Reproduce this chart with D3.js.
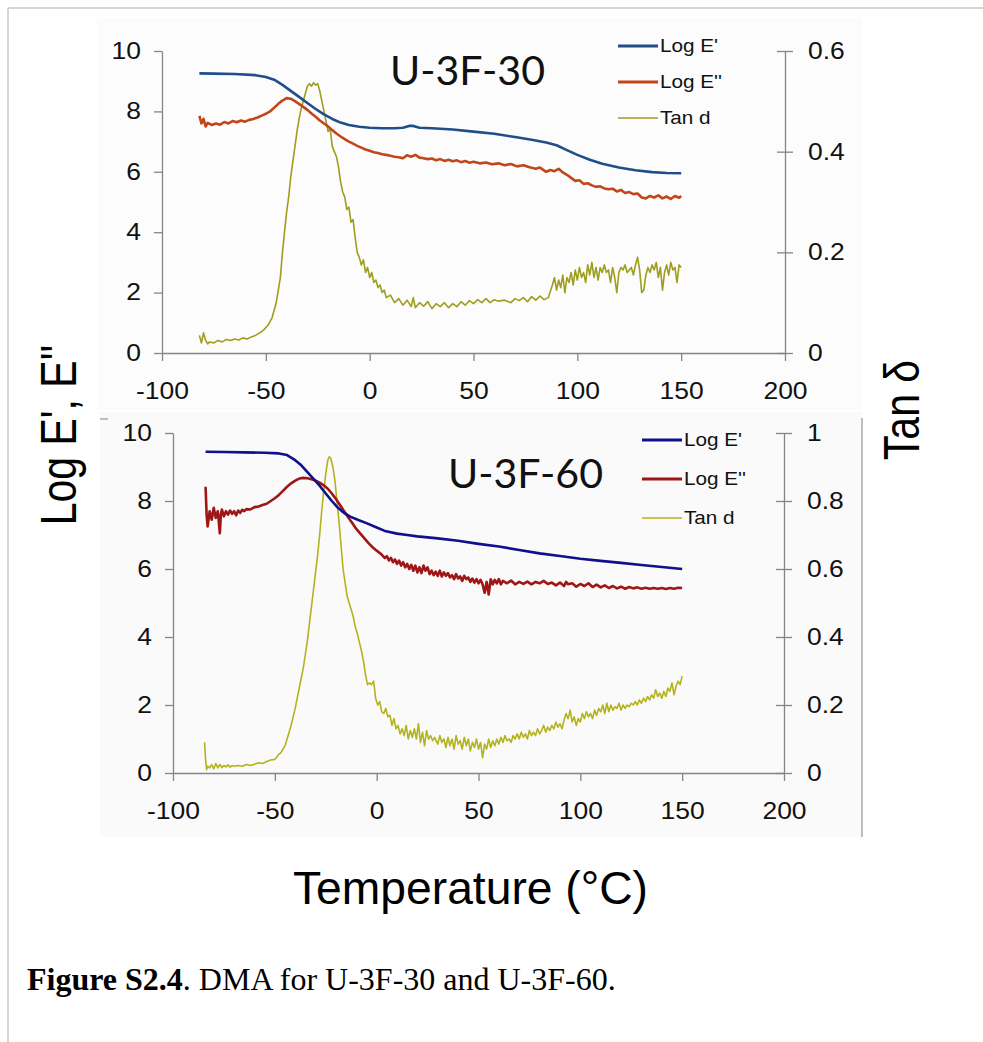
<!DOCTYPE html>
<html>
<head>
<meta charset="utf-8">
<script src="https://cdn.jsdelivr.net/npm/d3@7"></script>
<style>
  body { margin: 0; background: #fff; }
  text { font-family: "Liberation Sans", Arial, sans-serif; }
</style>
</head>
<body>
<svg id="fig" width="983" height="1042"></svg>
<script>
"use strict";
// ---- data: [temperature °C, value] ----
const tempTicks = [-100, -50, 0, 50, 100, 150, 200];
const modTicks = [0, 2, 4, 6, 8, 10];
const tanTicks30 = [0, 0.2, 0.4, 0.6];
const tanTicks60 = [0, 0.2, 0.4, 0.6, 0.8, 1];
const seriesNames = ["Log E'", "Log E''", "Tan d"];

// U-3F-30
const u30LogE1 = [[-82,9.26],[-75,9.25],[-65,9.24],[-55,9.2],[-50,9.14],[-46,9.05],[-42,8.88],[-38,8.68],[-34,8.48],[-30,8.28],[-26,8.08],[-22,7.9],[-18,7.75],[-14,7.63],[-10,7.55],[-5,7.49],[0,7.46],[6,7.44],[12,7.44],[16,7.46],[19,7.52],[21,7.52],[24,7.46],[30,7.44],[40,7.4],[50,7.33],[60,7.26],[70,7.15],[78,7.06],[85,6.97],[90,6.88],[95,6.72],[100,6.56],[106,6.4],[112,6.27],[120,6.14],[128,6.05],[136,5.99],[143,5.96],[150,5.95]];
const u30LogE2 = [[-82,7.85],[-81,7.6],[-80,7.75],[-79,7.5],[-78,7.62],[-76,7.55],[-74,7.6],[-72,7.56],[-70,7.65],[-68,7.6],[-66,7.68],[-64,7.64],[-62,7.7],[-60,7.66],[-58,7.72],[-56,7.75],[-54,7.8],[-52,7.86],[-50,7.92],[-48,8.0],[-46,8.12],[-44,8.25],[-42,8.36],[-40,8.44],[-38,8.42],[-36,8.34],[-34,8.25],[-32,8.15],[-30,8.05],[-28,7.93],[-26,7.82],[-24,7.7],[-22,7.6],[-20,7.5],[-18,7.38],[-16,7.27],[-14,7.17],[-12,7.08],[-10,7.0],[-8,6.93],[-6,6.86],[-4,6.8],[-2,6.74],[0,6.7],[2,6.65],[4,6.62],[6,6.58],[8,6.56],[10,6.53],[12,6.5],[14,6.48],[16,6.45],[18,6.55],[20,6.5],[22,6.56],[24,6.47],[26,6.45],[28,6.42],[30,6.44],[32,6.38],[34,6.42],[36,6.36],[38,6.4],[40,6.35],[42,6.38],[44,6.32],[46,6.36],[48,6.3],[50,6.33],[53,6.28],[56,6.31],[59,6.25],[62,6.28],[65,6.22],[68,6.26],[71,6.18],[74,6.22],[77,6.15],[80,6.1],[82,6.14],[85,6.0],[87,6.06],[89,6.02],[91,6.1],[93,5.98],[95,5.9],[97,5.8],[99,5.7],[101,5.72],[103,5.6],[105,5.62],[107,5.55],[109,5.5],[111,5.52],[113,5.45],[115,5.42],[117,5.44],[119,5.35],[121,5.4],[123,5.3],[125,5.33],[127,5.26],[129,5.28],[131,5.15],[133,5.12],[135,5.2],[137,5.15],[139,5.22],[141,5.12],[143,5.18],[145,5.1],[147,5.2],[149,5.14],[150,5.2]];
const u30Tan = [[-82,0.035],[-81,0.02],[-80,0.04],[-79,0.025],[-78,0.018],[-77,0.022],[-75,0.02],[-73,0.025],[-71,0.022],[-69,0.027],[-67,0.025],[-65,0.028],[-63,0.026],[-61,0.03],[-59,0.028],[-57,0.032],[-55,0.035],[-53,0.04],[-51,0.046],[-49,0.055],[-47,0.07],[-45,0.1],[-43,0.15],[-42,0.2],[-41,0.24],[-40,0.28],[-39,0.31],[-38,0.35],[-37,0.38],[-36,0.41],[-35,0.44],[-34,0.465],[-33,0.485],[-32,0.5],[-31,0.515],[-30,0.53],[-29,0.535],[-28,0.53],[-27,0.537],[-26,0.532],[-25,0.535],[-24,0.52],[-23,0.5],[-22,0.48],[-21,0.46],[-20,0.44],[-19,0.445],[-18,0.41],[-17,0.4],[-16,0.39],[-15,0.37],[-14,0.34],[-13,0.32],[-12,0.31],[-11,0.285],[-10,0.29],[-9,0.26],[-8,0.265],[-7,0.23],[-6,0.2],[-5,0.19],[-4,0.175],[-3,0.185],[-2,0.16],[-1,0.17],[0,0.15],[1,0.16],[2,0.14],[3,0.145],[4,0.13],[5,0.135],[6,0.12],[7,0.125],[8,0.11],[10,0.115],[12,0.1],[14,0.108],[16,0.095],[18,0.105],[20,0.092],[21,0.11],[22,0.09],[24,0.1],[26,0.093],[28,0.102],[30,0.088],[32,0.098],[34,0.092],[36,0.1],[38,0.09],[40,0.098],[42,0.092],[44,0.102],[46,0.095],[48,0.104],[50,0.098],[52,0.106],[54,0.1],[56,0.108],[58,0.1],[60,0.106],[62,0.103],[65,0.105],[68,0.1],[70,0.108],[72,0.104],[74,0.11],[76,0.102],[78,0.112],[80,0.105],[82,0.113],[84,0.106],[86,0.11],[88,0.135],[89,0.15],[90,0.125],[91,0.145],[92,0.13],[93,0.155],[94,0.12],[95,0.15],[96,0.14],[97,0.16],[98,0.135],[99,0.165],[100,0.145],[101,0.17],[102,0.15],[103,0.16],[104,0.14],[105,0.175],[106,0.155],[107,0.18],[108,0.15],[109,0.17],[110,0.145],[111,0.17],[112,0.16],[113,0.175],[114,0.16],[115,0.165],[116,0.14],[117,0.17],[118,0.15],[119,0.12],[120,0.16],[121,0.17],[122,0.165],[123,0.175],[124,0.16],[125,0.165],[126,0.17],[127,0.155],[128,0.175],[129,0.19],[130,0.165],[131,0.12],[132,0.125],[133,0.155],[134,0.17],[135,0.16],[136,0.175],[137,0.165],[138,0.18],[139,0.15],[140,0.17],[141,0.125],[142,0.16],[143,0.175],[144,0.155],[145,0.18],[146,0.165],[147,0.17],[148,0.14],[149,0.175],[150,0.17]];

// U-3F-60
const u60LogE1 = [[-84,9.45],[-75,9.44],[-65,9.43],[-55,9.42],[-48,9.4],[-44,9.35],[-40,9.2],[-37,9.05],[-34,8.85],[-31,8.65],[-28,8.45],[-25,8.22],[-22,8.0],[-19,7.8],[-16,7.65],[-13,7.54],[-9,7.44],[-5,7.35],[0,7.22],[4,7.12],[10,7.04],[15,7.0],[20,6.96],[30,6.9],[40,6.83],[50,6.74],[60,6.66],[70,6.56],[80,6.46],[90,6.38],[100,6.3],[110,6.24],[120,6.18],[130,6.12],[140,6.06],[150,6.0]];
const u60LogE2 = [[-84,8.42],[-83.5,7.6],[-83,7.25],[-82,7.7],[-81,7.45],[-80,7.8],[-79,7.5],[-78,7.7],[-77,7.05],[-76.5,7.6],[-76,7.75],[-75,7.55],[-74,7.7],[-73,7.6],[-72,7.72],[-71,7.62],[-70,7.7],[-69,7.58],[-68,7.72],[-67,7.65],[-66,7.74],[-65,7.7],[-64,7.76],[-62,7.75],[-60,7.82],[-58,7.84],[-56,7.88],[-54,7.92],[-52,8.0],[-50,8.08],[-48,8.18],[-46,8.3],[-44,8.42],[-42,8.52],[-40,8.6],[-38,8.66],[-36,8.68],[-34,8.67],[-32,8.64],[-30,8.6],[-28,8.54],[-26,8.46],[-24,8.36],[-22,8.22],[-20,8.06],[-18,7.88],[-16,7.7],[-14,7.52],[-12,7.35],[-10,7.18],[-8,7.04],[-6,6.9],[-4,6.76],[-2,6.64],[0,6.54],[2,6.45],[4,6.32],[5,6.38],[6,6.25],[7,6.33],[8,6.2],[9,6.28],[10,6.15],[11,6.25],[12,6.1],[13,6.2],[14,6.05],[15,6.15],[16,6.0],[17,6.12],[18,5.95],[19,6.1],[20,5.9],[21,6.05],[22,5.88],[23,6.1],[24,5.95],[25,6.05],[26,5.85],[27,5.95],[28,5.82],[29,5.92],[30,5.8],[31,5.95],[32,5.78],[33,5.9],[34,5.8],[35,5.88],[36,5.75],[37,5.82],[38,5.7],[39,5.85],[40,5.72],[41,5.78],[42,5.65],[43,5.8],[44,5.7],[45,5.75],[46,5.62],[47,5.72],[48,5.6],[49,5.7],[50,5.58],[51,5.68],[52,5.55],[53,5.3],[54,5.62],[55,5.25],[56,5.7],[57,5.55],[58,5.68],[59,5.58],[60,5.7],[61,5.55],[62,5.65],[64,5.58],[66,5.66],[68,5.55],[70,5.62],[72,5.56],[74,5.63],[76,5.55],[78,5.62],[80,5.58],[82,5.65],[84,5.56],[86,5.6],[88,5.52],[90,5.6],[92,5.5],[93,5.62],[94,5.55],[96,5.58],[98,5.48],[100,5.56],[102,5.5],[104,5.58],[106,5.47],[108,5.54],[110,5.46],[112,5.52],[114,5.44],[116,5.5],[118,5.43],[120,5.48],[122,5.42],[124,5.47],[126,5.43],[128,5.46],[130,5.42],[132,5.45],[134,5.42],[136,5.44],[138,5.42],[140,5.44],[142,5.41],[144,5.44],[146,5.42],[148,5.45],[150,5.44]];
const u60Tan = [[-84.5,0.09],[-84,0.04],[-83.5,0.01],[-83,0.02],[-82,0.015],[-81,0.025],[-80,0.012],[-79,0.028],[-78,0.015],[-77,0.025],[-76,0.016],[-75,0.022],[-74,0.018],[-73,0.024],[-72,0.017],[-71,0.022],[-70,0.02],[-68,0.022],[-66,0.02],[-64,0.025],[-62,0.022],[-60,0.026],[-58,0.03],[-56,0.028],[-54,0.034],[-52,0.038],[-50,0.04],[-49,0.048],[-48,0.055],[-47,0.06],[-46,0.07],[-45,0.08],[-44,0.1],[-43,0.12],[-42,0.14],[-41,0.165],[-40,0.19],[-39,0.22],[-38,0.25],[-37,0.28],[-36,0.31],[-35,0.35],[-34,0.39],[-33,0.44],[-32,0.49],[-31,0.54],[-30,0.59],[-29,0.64],[-28,0.7],[-27,0.77],[-26,0.83],[-25,0.88],[-24,0.92],[-23.3,0.93],[-22.5,0.925],[-21.5,0.9],[-20.5,0.86],[-19.5,0.8],[-18.5,0.74],[-17.5,0.67],[-16.5,0.6],[-15.5,0.56],[-14.5,0.52],[-13.5,0.5],[-12.5,0.48],[-11.5,0.46],[-10.5,0.43],[-9.5,0.41],[-8.5,0.385],[-7.5,0.36],[-6.5,0.33],[-5.5,0.29],[-4.5,0.26],[-3.5,0.265],[-2.5,0.26],[-1.5,0.27],[-0.5,0.22],[0.5,0.2],[1.5,0.21],[2.5,0.18],[3.5,0.175],[4.5,0.19],[5.5,0.165],[6.5,0.17],[7.5,0.14],[8.5,0.16],[9.5,0.13],[10.5,0.14],[11.5,0.115],[12.5,0.13],[13.5,0.11],[14.5,0.14],[15.5,0.1],[16.5,0.125],[17.5,0.105],[18.5,0.13],[19.5,0.1],[20.5,0.145],[21.5,0.09],[22.5,0.12],[23.5,0.08],[24.5,0.125],[25.5,0.1],[26.5,0.11],[27.5,0.095],[28.5,0.105],[30,0.085],[31,0.11],[32,0.09],[33,0.1],[34,0.075],[35,0.105],[36,0.08],[37,0.1],[38,0.07],[39,0.11],[40,0.085],[41,0.095],[42,0.07],[43,0.105],[44,0.08],[45,0.1],[46,0.065],[47,0.09],[48,0.075],[49,0.1],[50,0.07],[51,0.09],[52,0.045],[53,0.085],[54,0.07],[55,0.1],[56,0.075],[57,0.095],[58,0.08],[59,0.1],[60,0.085],[61,0.105],[62,0.09],[63,0.11],[64,0.095],[65,0.1],[66,0.09],[67,0.11],[68,0.1],[69,0.115],[70,0.1],[71,0.12],[72,0.105],[73,0.115],[74,0.1],[75,0.125],[76,0.11],[77,0.12],[78,0.11],[79,0.13],[80,0.115],[81,0.125],[82,0.14],[83,0.12],[84,0.135],[85,0.125],[86,0.14],[87,0.13],[88,0.15],[89,0.135],[90,0.145],[91,0.13],[92,0.155],[93,0.175],[94,0.16],[95,0.185],[96,0.15],[97,0.165],[98,0.14],[99,0.16],[100,0.15],[101,0.175],[102,0.16],[103,0.18],[104,0.165],[105,0.175],[106,0.16],[107,0.185],[108,0.17],[109,0.19],[110,0.18],[111,0.2],[112,0.175],[113,0.205],[114,0.18],[115,0.2],[116,0.185],[117,0.195],[118,0.19],[119,0.205],[120,0.185],[121,0.2],[122,0.19],[123,0.2],[124,0.195],[125,0.205],[126,0.2],[127,0.21],[128,0.2],[129,0.215],[130,0.205],[131,0.22],[132,0.21],[133,0.225],[134,0.215],[135,0.23],[136,0.22],[137,0.245],[138,0.225],[139,0.235],[140,0.22],[141,0.24],[142,0.225],[143,0.25],[144,0.24],[145,0.265],[146,0.23],[147,0.255],[148,0.27],[149,0.26],[150,0.285]];

// ---- drawing ----
const svg = d3.select("#fig");
const axisGrey = "#858585";
const stretchK = 1.15;

// widen Arial-like labels a little, as in the source image
function stretchX(k) {
    return function () {
        const t = d3.select(this);
        const x = +t.attr("x") || 0;
        t.attr("transform", "translate(" + (x * (1 - k)) + ",0) scale(" + k + ",1)");
    };
}

// page frame
svg.append("line").attr("x1", 8).attr("y1", 8).attr("x2", 983).attr("y2", 8)
    .style("stroke", "#c8c8c8").style("stroke-width", 1.5);
svg.append("line").attr("x1", 8).attr("y1", 8).attr("x2", 8).attr("y2", 1042)
    .style("stroke", "#c8c8c8").style("stroke-width", 1.5);

// faint backgrounds of the two pasted chart images
svg.append("rect").attr("x", 97).attr("y", 18).attr("width", 765).attr("height", 392).style("fill", "#fcfcfc");
svg.append("rect").attr("x", 100).attr("y", 412).attr("width", 762).attr("height", 425).style("fill", "#fafafa");
svg.append("line").attr("x1", 862).attr("y1", 418).attr("x2", 862).attr("y2", 837)
    .style("stroke", "#a8a8a8").style("stroke-width", 1.5);
svg.append("line").attr("x1", 100).attr("y1", 419).attr("x2", 108).attr("y2", 419)
    .style("stroke", "#a8a8a8").style("stroke-width", 1.5);

function drawPanel(p) {
    let x = d3.scaleLinear().domain([-100, 200]).range([p.left, p.right]);
    let yL = d3.scaleLinear().domain([0, 10]).range([p.bottom, p.top]);
    let yR = d3.scaleLinear().domain([0, p.tanMax]).range([p.bottom, p.top]);

    let g = svg.append("g");

    // x axis (plain hyphen minus, as in the source)
    let gx = g.append("g")
        .attr("transform", "translate(0," + p.bottom + ")")
        .call(d3.axisBottom(x).tickValues(tempTicks).tickSize(8).tickSizeOuter(0).tickPadding(22)
            .tickFormat(d => String(d)));
    // left axis
    let gl = g.append("g")
        .attr("transform", "translate(" + p.left + ",0)")
        .call(d3.axisLeft(yL).tickValues(modTicks).tickSize(8).tickSizeOuter(0).tickPadding(13)
            .tickFormat(d => String(d)));
    // right axis, crossing ticks
    let gr = g.append("g")
        .attr("transform", "translate(" + p.right + ",0)")
        .call(d3.axisRight(yR).tickValues(p.tanTicks).tickSize(8).tickSizeOuter(0).tickPadding(15)
            .tickFormat(d => String(d)));
    gr.selectAll(".tick line").attr("x1", -8).attr("x2", 8);

    [gx, gl, gr].forEach(a => {
        a.selectAll("path.domain").style("stroke", axisGrey).style("stroke-width", 1.3);
        a.selectAll(".tick line").style("stroke", axisGrey).style("stroke-width", 1.3);
        a.selectAll("text")
            .style("font", "23px 'Liberation Sans', Arial, sans-serif")
            .style("fill", "#111")
            .each(stretchX(stretchK));
    });

    // curves
    let lineL = d3.line().x(d => x(d[0])).y(d => yL(d[1]));
    let lineR = d3.line().x(d => x(d[0])).y(d => yR(d[1]));
    g.append("path").attr("d", lineR(p.tan))
        .style("fill", "none").style("stroke", p.colors[2]).style("stroke-width", 1.6)
        .style("stroke-linejoin", "round");
    g.append("path").attr("d", lineL(p.e2))
        .style("fill", "none").style("stroke", p.colors[1]).style("stroke-width", 2.6)
        .style("stroke-linejoin", "round");
    g.append("path").attr("d", lineL(p.e1))
        .style("fill", "none").style("stroke", p.colors[0]).style("stroke-width", 2.6)
        .style("stroke-linejoin", "round");

    // panel title
    g.append("text")
        .attr("x", p.titleX).attr("y", p.titleY)
        .attr("textLength", 155).attr("lengthAdjust", "spacingAndGlyphs")
        .style("font", "40px Lato, 'Open Sans', sans-serif")
        .style("fill", "#111")
        .text(p.title);

    // legend
    let leg = g.selectAll(".leg").data(seriesNames).enter().append("g")
        .attr("transform", (d, i) => "translate(" + p.legX + "," + (p.legY + i * p.legStep) + ")");
    leg.append("line").attr("x1", 0).attr("x2", 40).attr("y1", 0).attr("y2", 0)
        .style("stroke", (d, i) => p.colors[i])
        .style("stroke-width", (d, i) => i === 2 ? 1.6 : 3);
    leg.append("text").attr("x", 42).attr("dy", "0.36em")
        .style("font", "18px 'Liberation Sans', Arial, sans-serif")
        .style("fill", "#111")
        .text(d => d)
        .each(stretchX(stretchK));
}

drawPanel({
    left: 162, right: 785, top: 51, bottom: 353,
    tanMax: 0.6, tanTicks: tanTicks30,
    e1: u30LogE1, e2: u30LogE2, tan: u30Tan,
    colors: ["#1f4e8a", "#c2461b", "#9e9e1e"],
    title: "U-3F-30", titleX: 390, titleY: 85,
    legX: 618, legY: 46, legStep: 36
});
drawPanel({
    left: 173, right: 784, top: 433, bottom: 773,
    tanMax: 1, tanTicks: tanTicks60,
    e1: u60LogE1, e2: u60LogE2, tan: u60Tan,
    colors: ["#10108c", "#9e1616", "#b3b31f"],
    title: "U-3F-60", titleX: 448, titleY: 488,
    legX: 642, legY: 440, legStep: 39
});

// shared axis titles
svg.append("text")
    .attr("transform", "translate(76,435) scale(1.2,1) rotate(-90)")
    .attr("text-anchor", "middle")
    .style("font", "41px 'Liberation Sans', Arial, sans-serif")
    .style("fill", "#000")
    .text("Log E', E''");
svg.append("text")
    .attr("transform", "translate(919,410) scale(1.2,1) rotate(-90)")
    .attr("text-anchor", "middle")
    .style("font", "41px 'Liberation Sans', Arial, sans-serif")
    .style("fill", "#000")
    .text("Tan δ");
svg.append("text")
    .attr("x", 293).attr("y", 904)
    .attr("textLength", 355).attr("lengthAdjust", "spacingAndGlyphs")
    .style("font", "46px 'Liberation Sans', Arial, sans-serif")
    .style("fill", "#000")
    .text("Temperature (°C)");

// caption
let cap = svg.append("text")
    .attr("x", 27).attr("y", 990)
    .style("font", "32px 'Liberation Serif', 'Times New Roman', serif")
    .style("fill", "#000");
cap.append("tspan").style("font-weight", "bold").text("Figure S2.4");
cap.append("tspan").text(". DMA for U-3F-30 and U-3F-60.");
</script>
</body>
</html>
